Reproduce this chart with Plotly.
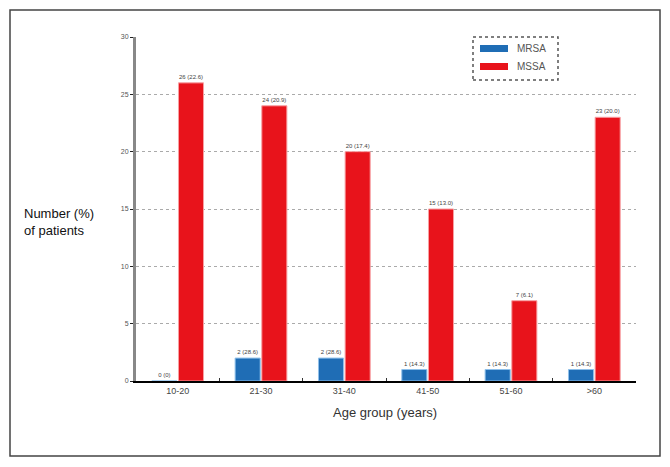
import plotly.graph_objects as go

categories = ["10-20", "21-30", "31-40", "41-50", "51-60", ">60"]
mrsa = [0, 2, 2, 1, 1, 1]
mssa = [26, 24, 20, 15, 7, 23]
mrsa_labels = ["0 (0)", "2 (28.6)", "2 (28.6)", "1 (14.3)", "1 (14.3)", "1 (14.3)"]
mssa_labels = ["26 (22.6)", "24 (20.9)", "20 (17.4)", "15 (13.0)", "7 (6.1)", "23 (20.0)"]
y_ticks = [0, 5, 10, 15, 20, 25, 30]

BLUE = "#1f6db5"
RED = "#e8131b"
FONT = "Liberation Sans, Arial, sans-serif"

# page body adds an 8px margin; compensate so the figure sits at window coords
OFF = 8

fig = go.Figure()
fig.add_trace(go.Bar(
    x=categories, y=mrsa, name="MRSA", text=mrsa_labels,
    textposition="outside", cliponaxis=False,
    textfont=dict(size=6, color="#444", family=FONT),
    marker=dict(color=BLUE, line=dict(color="#8fc0ea", width=1)),
))
fig.add_trace(go.Bar(
    x=categories, y=mssa, name="MSSA", text=mssa_labels,
    textposition="outside", cliponaxis=False,
    textfont=dict(size=6, color="#444", family=FONT),
    marker=dict(color=RED, line=dict(color="#f7a0a3", width=1)),
))

# window coordinates of the plot area
X0, X1, Y0, Y1 = 136, 636, 37, 381
W, H = 670 - OFF, 467 - OFF
L, T = X0 - OFF, Y0 - OFF
R, B = W - (X1 - OFF), H - (Y1 - OFF)
pw, ph = X1 - X0, Y1 - Y0

def px(x):
    return (x - X0) / pw

def py(y):
    return (Y1 - y) / ph

shapes = [
    dict(type="rect", xref="paper", yref="paper", x0=px(10), x1=px(660),
         y0=py(456), y1=py(10), line=dict(color="#444", width=1.5)),
    dict(type="rect", xref="paper", yref="paper", x0=px(473), x1=px(558),
         y0=py(80), y1=py(37), line=dict(color="#555", width=1.5, dash="dot"),
         fillcolor="white"),
    dict(type="rect", xref="paper", yref="paper", x0=px(480), x1=px(508),
         y0=py(52), y1=py(45), line=dict(width=0), fillcolor=BLUE),
    dict(type="rect", xref="paper", yref="paper", x0=px(480), x1=px(508),
         y0=py(70), y1=py(63), line=dict(width=0), fillcolor=RED),
]

annotations = [
    dict(text="MRSA", xref="paper", yref="paper", x=px(515), y=py(48.5),
         xanchor="left", yanchor="middle", showarrow=False,
         font=dict(size=10, color="#555", family=FONT)),
    dict(text="MSSA", xref="paper", yref="paper", x=px(515), y=py(66.5),
         xanchor="left", yanchor="middle", showarrow=False,
         font=dict(size=10, color="#555", family=FONT)),
    dict(text="Number (%)<br>of patients", xref="paper", yref="paper",
         x=px(22), y=py(222), xanchor="left", yanchor="middle", align="left",
         showarrow=False, font=dict(size=13, color="#111", family=FONT)),
    dict(text="Age group (years)", xref="paper", yref="paper",
         x=px(385), y=py(412), xanchor="center", yanchor="middle",
         showarrow=False, font=dict(size=13, color="#333", family=FONT)),
]

fig.update_layout(
    width=W, height=H,
    margin=dict(l=L, r=R, t=T, b=B, autoexpand=False),
    paper_bgcolor="white", plot_bgcolor="white",
    barmode="group", bargap=0.36, bargroupgap=0.06,
    showlegend=False,
    shapes=shapes, annotations=annotations,
    font=dict(family=FONT),
)
fig.update_xaxes(
    showline=True, linecolor="black", linewidth=2,
    ticks="inside", tickson="boundaries", ticklen=3, tickcolor="#333",
    tickfont=dict(size=9, color="#444", family=FONT),
    showgrid=False, zeroline=False,
)
fig.update_yaxes(
    range=[0, 30], tickvals=y_ticks,
    showline=True, linecolor="#888", linewidth=3,
    ticks="outside", ticklen=3, tickcolor="#222",
    tickfont=dict(size=7, color="#555", family=FONT),
    showgrid=True, gridcolor="#aaa", gridwidth=1, griddash="dot",
    zeroline=False,
)

fig.write_html("out.html")
